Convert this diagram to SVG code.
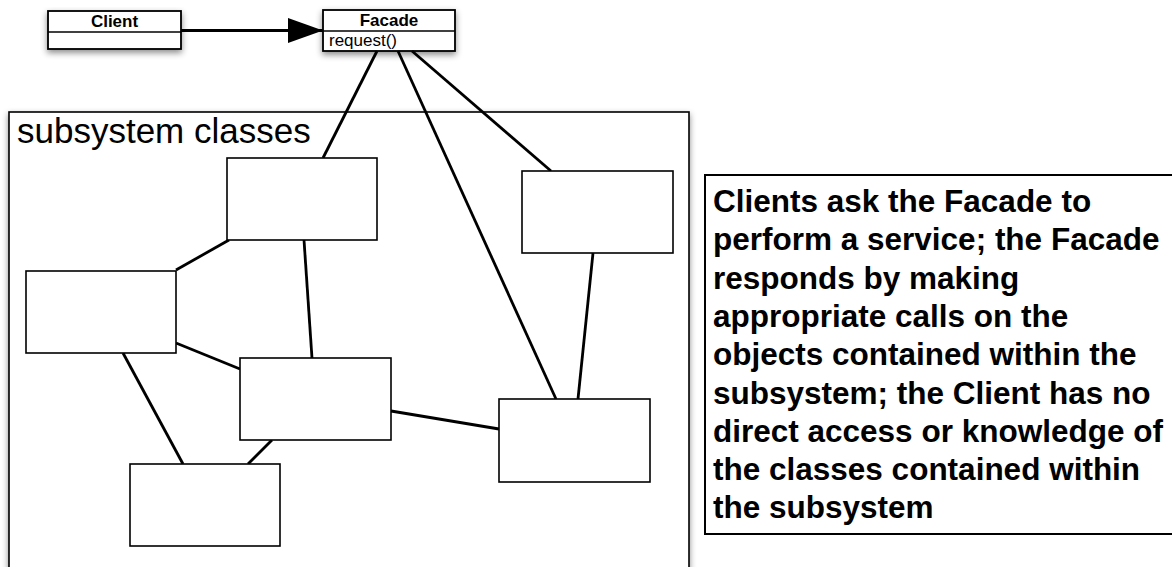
<svg xmlns="http://www.w3.org/2000/svg" width="1172" height="567" viewBox="0 0 1172 567">
<style>
.box{fill:#fff;stroke:#000;stroke-width:1.6}
.uml{fill:#fff;stroke:#000;stroke-width:1.8}
.div{stroke:#000;stroke-width:1.5}
.con{stroke:#000;stroke-width:2.8;fill:none;stroke-linecap:butt}
.t{font-family:"Liberation Sans",Arial,Helvetica,sans-serif;fill:#000}
.b{font-weight:bold}
</style>
<defs>
<filter id="sh" x="-10%" y="-10%" width="120%" height="140%">
<feDropShadow dx="0" dy="3" stdDeviation="3" flood-color="#000" flood-opacity="0.45"/>
</filter>
<marker id="arr" viewBox="0 0 35 25" refX="35" refY="12.5" markerWidth="35" markerHeight="25" markerUnits="userSpaceOnUse" orient="auto">
<path d="M0,0 L35,12.5 L0,25 Z" fill="#000"/>
</marker>
</defs>
<g id="subsystem">
<rect x="9" y="112" width="680" height="480" class="box" filter="url(#sh)"/>
<text class="t" font-size="35" x="17" y="143">subsystem classes</text>
</g>
<g id="client">
<rect x="48" y="11" width="133" height="38" class="uml" filter="url(#sh)"/>
<line x1="48" y1="32" x2="181" y2="32" class="div"/>
<text class="t b" font-size="17" text-anchor="middle" x="114.5" y="27">Client</text>
</g>
<g id="facade">
<rect x="323" y="10" width="132" height="41" class="uml" filter="url(#sh)"/>
<line x1="323" y1="31" x2="455" y2="31" class="div"/>
<text class="t b" font-size="17" text-anchor="middle" x="389" y="26">Facade</text>
<text class="t" font-size="17" x="329" y="45.5">request()</text>
</g>
<g id="connectors">
<line x1="181" y1="30.5" x2="323" y2="30.5" class="con" stroke-width="3.4" marker-end="url(#arr)"/>
<line x1="377" y1="51" x2="323" y2="158" class="con"/>
<line x1="398" y1="51" x2="556" y2="399" class="con"/>
<line x1="412" y1="51" x2="551" y2="171" class="con"/>
<line x1="229" y1="240" x2="176" y2="270" class="con"/>
<line x1="304" y1="240" x2="312" y2="358" class="con"/>
<line x1="176" y1="343" x2="240" y2="369" class="con"/>
<line x1="123" y1="353" x2="183" y2="464" class="con"/>
<line x1="272" y1="440" x2="248" y2="464" class="con"/>
<line x1="391" y1="411" x2="499" y2="429" class="con"/>
<line x1="593" y1="253" x2="578" y2="399" class="con"/>
</g>
<g id="classA"><rect x="227" y="158" width="150" height="82" class="box"/></g>
<g id="classB"><rect x="26" y="271" width="150" height="82" class="box"/></g>
<g id="classC"><rect x="240" y="358" width="151" height="82" class="box"/></g>
<g id="classD"><rect x="130" y="464" width="150" height="82" class="box"/></g>
<g id="classE"><rect x="499" y="399" width="151" height="83" class="box"/></g>
<g id="classF"><rect x="522" y="171" width="151" height="82" class="box"/></g>
<g id="note">
<rect x="705" y="175" width="480" height="359" fill="#fff" stroke="#000" stroke-width="2"/>
<text class="t b" font-size="31.5">
<tspan x="713" y="212">Clients ask the Facade to</tspan>
<tspan x="713" y="250.3">perform a service; the Facade</tspan>
<tspan x="713" y="288.6">responds by making</tspan>
<tspan x="713" y="326.9">appropriate calls on the</tspan>
<tspan x="713" y="365.2">objects contained within the</tspan>
<tspan x="713" y="403.5">subsystem; the Client has no</tspan>
<tspan x="713" y="441.8">direct access or knowledge of</tspan>
<tspan x="713" y="480.1">the classes contained within</tspan>
<tspan x="713" y="518.4">the subsystem</tspan>
</text>
</g>
</svg>
